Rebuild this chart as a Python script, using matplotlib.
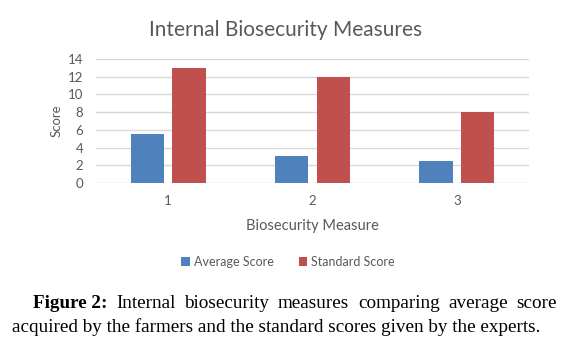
import matplotlib.pyplot as plt
import numpy as np

categories = ["1", "2", "3"]
average_score = [5.5, 3, 2.5]
standard_score = [13, 12, 8]
y_ticks = [0, 2, 4, 6, 8, 10, 12, 14]

caption_line1 = ["Internal", "biosecurity", "measures", "comparing", "average", "score"]
caption_line2 = "acquired by the farmers and the standard scores given by the experts."

BLUE = "#4F81BD"
RED = "#C0504D"
GRAY = "#595959"
GRID = "#D9D9D9"
FONT = "Lato"


def main():
    fig = plt.figure(figsize=(5.71, 3.44), dpi=100)
    ax = fig.add_axes([96 / 571, 1 - 183 / 344, 433 / 571, 124 / 344])

    x = np.arange(len(categories))
    w = 0.23
    off = 0.145
    ax.bar(x - off, average_score, w, color=BLUE, label="Average Score", zorder=3)
    ax.bar(x + off, standard_score, w, color=RED, label="Standard Score", zorder=3)

    ax.set_xlim(-0.5, len(categories) - 0.5)
    ax.set_ylim(0, 14)
    ax.set_yticks(y_ticks)
    ax.set_xticks(x)
    ax.set_xticklabels(categories)
    ax.yaxis.grid(True, color=GRID, linewidth=1, zorder=0)
    for s in ax.spines.values():
        s.set_visible(False)
    ax.tick_params(length=0, labelsize=9.5, labelcolor=GRAY, pad=9)
    for lab in ax.get_xticklabels() + ax.get_yticklabels():
        lab.set_family(FONT)

    ax.set_ylabel("Score", fontsize=9.5, color=GRAY, family=FONT, labelpad=4)
    ax.set_xlabel("Biosecurity Measure", fontsize=10.5, color=GRAY, family=FONT, labelpad=8)

    fig.text(286 / 571, 1 - 30 / 344, "Internal Biosecurity Measures", ha="center", va="center",
             fontsize=15, color=GRAY, family=FONT)

    leg = fig.legend(loc="center", bbox_to_anchor=(288 / 571, 1 - 262 / 344), ncol=2, frameon=False,
                     handlelength=0.7, handleheight=0.7, columnspacing=2.0,
                     handletextpad=0.3, prop={"family": FONT, "size": 9})
    for t in leg.get_texts():
        t.set_color(GRAY)

    # caption: first line justified between x0 and x1
    renderer = fig.canvas.get_renderer()
    x0, x1 = 33, 557
    y1 = 1 - 303 / 344
    fs = 13.8
    words = [fig.text(0, y1, "Figure 2:", fontsize=fs, family="Liberation Serif", weight="bold", va="center")]
    for wd in caption_line1:
        words.append(fig.text(0, y1, wd, fontsize=fs, family="Liberation Serif", va="center"))
    widths = [t.get_window_extent(renderer).width for t in words]
    gap = (x1 - x0 - sum(widths)) / (len(words) - 1)
    pos = x0
    for t, wdt in zip(words, widths):
        t.set_x(pos / 571)
        pos += wdt + gap

    fig.text(12 / 571, 1 - 327 / 344, caption_line2, fontsize=fs, family="Liberation Serif", va="center")

    fig.savefig("out.png", dpi=100)


if __name__ == "__main__":
    main()
